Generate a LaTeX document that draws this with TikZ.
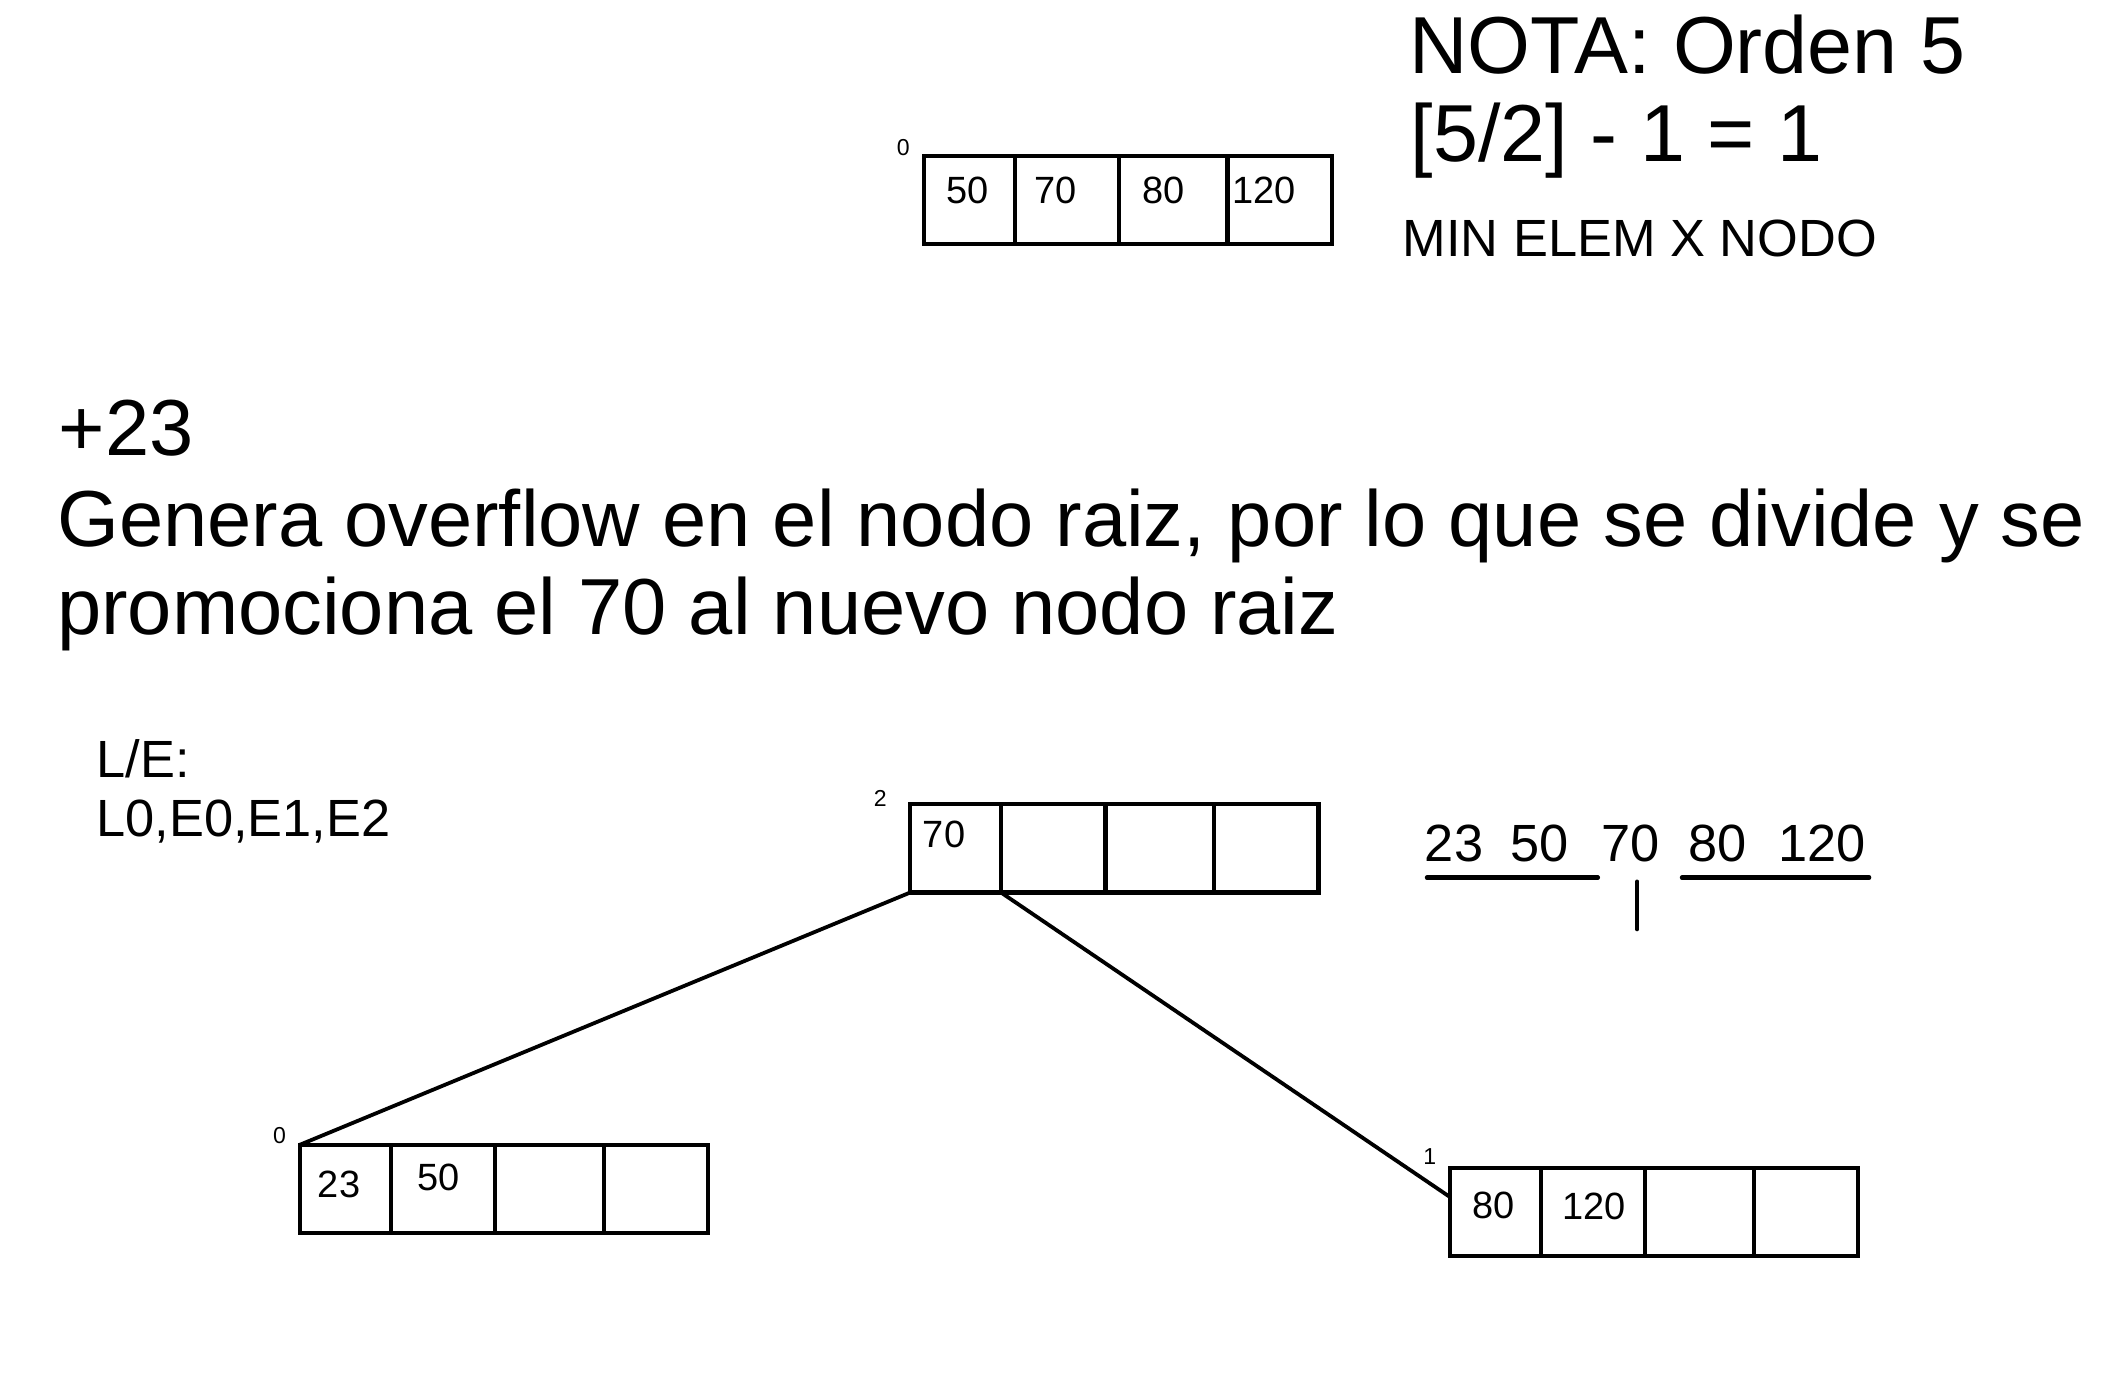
\documentclass[tikz,border=0pt]{standalone}
\usepackage{fontspec}
\setmainfont{Liberation Sans}

\tikzset{
  bcell/.style={draw, line width=3.1pt, minimum width=#1, minimum height=65pt,
    inner sep=0pt, outer sep=0pt, anchor=north west},
  val/.style={anchor=base, inner sep=0pt, font=\fontsize{28}{32}\selectfont},
  lvl/.style={inner sep=0pt, font=\fontsize{17}{20}\selectfont},
  bigtext/.style={anchor=base west, inner sep=0pt, font=\fontsize{58.6}{66}\selectfont},
  notatext/.style={anchor=base west, inner sep=0pt, font=\fontsize{59.6}{66}\selectfont},
  midtext/.style={anchor=base west, inner sep=0pt, font=\fontsize{38.6}{44}\selectfont},
  seq/.style={anchor=base, inner sep=0pt, font=\fontsize{38.6}{44}\selectfont},
  link/.style={line width=2.8pt},
  cutline/.style={line width=3.2pt, line cap=round}
}

\begin{document}
\begin{tikzpicture}[x=1pt,y=-1pt]
 \useasboundingbox (0,0) rectangle (1560,1029);

 % nota
 \node[notatext] (nota) at (1039,54) {NOTA: Orden 5};
 \node[notatext] (formula) at (1040,119) {[5/2] - 1 = 1};
 \node[midtext] (minelem) at (1034,189) {MIN ELEM X NODO};

 % nodo inicial
 \node[bcell=67pt] (t1) at (681,115) {};
 \node[bcell=77pt] (t2) at (t1.north east) {};
 \node[bcell=80pt] (t3) at (t2.north east) {};
 \node[bcell=77pt] (t4) at (t3.north east) {};
 \node[lvl] (t0) at (666,109) {0};
 \node[val] (t50) at (713,150) {50};
 \node[val] (t70) at (778,150) {70};
 \node[val] (t80) at (858,150) {80};
 \node[val] (t120) at (932,150) {120};

 % +23
 \node[bigtext] (plus) at (43,336) {+23};
 \node[bigtext] (gen1) at (42,403) {Genera overflow en el nodo raiz, por lo que se divide y se};
 \node[bigtext] (gen2) at (42,468) {promociona el 70 al nuevo nodo raiz};

 \node[midtext] (le1) at (71,573) {L/E:};
 \node[midtext] (le2) at (71,617) {L0,E0,E1,E2};

 % nueva raiz
 \node[bcell=67pt] (r1) at (671,593) {};
 \node[bcell=77pt] (r2) at (r1.north east) {};
 \node[bcell=80pt] (r3) at (r2.north east) {};
 \node[bcell=77pt] (r4) at (r3.north east) {};
 \node[lvl] (r0) at (649,589) {2};
 \node[val] (r70) at (696,625) {70};

 % hijo izquierdo
 \node[bcell=67pt] (a1) at (221,844) {};
 \node[bcell=77pt] (a2) at (a1.north east) {};
 \node[bcell=80pt] (a3) at (a2.north east) {};
 \node[bcell=77pt] (a4) at (a3.north east) {};
 \node[lvl] (a0) at (206,837) {0};
 \node[val] (a23) at (250,883) {23};
 \node[val] (a50) at (323,878) {50};

 % hijo derecho
 \node[bcell=67pt] (b1) at (1069,861) {};
 \node[bcell=77pt] (b2) at (b1.north east) {};
 \node[bcell=80pt] (b3) at (b2.north east) {};
 \node[bcell=77pt] (b4) at (b3.north east) {};
 \node[lvl] (b0) at (1054,853) {1};
 \node[val] (b80) at (1101,898) {80};
 \node[val] (b120) at (1175,899) {120};

 \draw[link] (r1.south west) -- (a1.north west);
 \draw[link] (r1.south east) -- ([yshift=11pt]b1.west);

 % division
 \node[seq] (s23) at (1072,635) {23};
 \node[seq] (s50) at (1135,635) {50};
 \node[seq] (s70) at (1202,635) {70};
 \node[seq] (s80) at (1266,635) {80};
 \node[seq] (s120) at (1343,635) {120};
 \draw[cutline] (1052,647) -- (1178,647);
 \draw[cutline] (1240,647) -- (1378,647);
 \draw[cutline] (1207,650) -- (1207,685);
\end{tikzpicture}
\end{document}
